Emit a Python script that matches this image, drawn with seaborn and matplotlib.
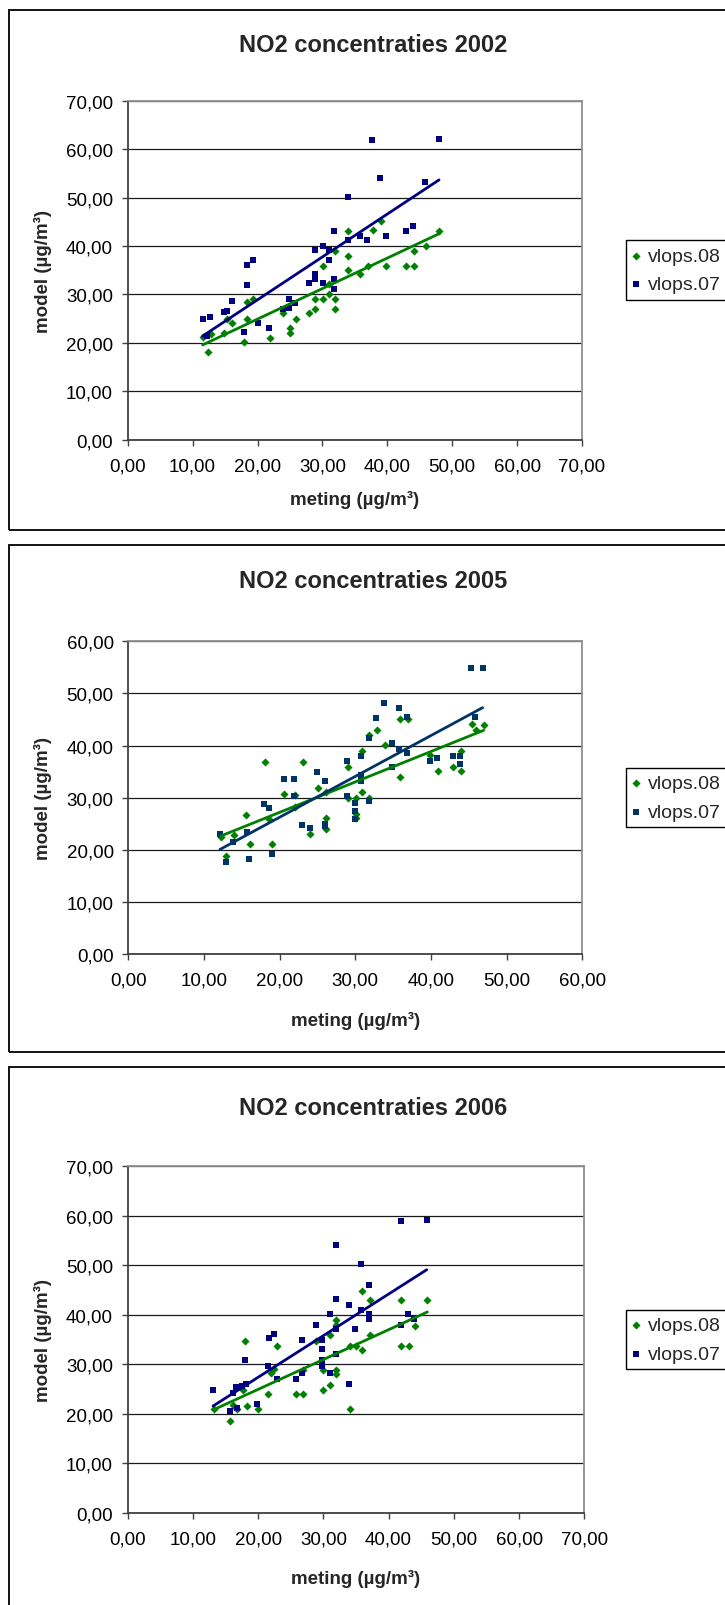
import numpy as np
import pandas as pd
import matplotlib
matplotlib.use("Agg")
import matplotlib.pyplot as plt
from matplotlib.patches import Rectangle
from matplotlib.ticker import FuncFormatter, MultipleLocator
import seaborn as sns

# ---------------- data ----------------
# 2002
x02_07 = [11.54, 12.72, 12.16, 14.83, 15.29, 16.01, 17.86, 18.32, 18.32, 19.24, 20.01, 21.81, 23.91,
          24.83, 24.83, 25.76, 27.91, 28.84, 28.84, 28.84, 30.02, 30.02, 30.94, 30.94, 31.86, 31.86,
          31.86, 33.91, 33.91, 35.81, 36.94, 37.66, 38.84, 39.76, 42.84, 43.97, 45.87, 47.97]
y02_07 = [24.85, 25.40, 21.47, 26.29, 26.50, 28.56, 22.23, 32.00, 35.99, 37.16, 24.16, 23.12, 27.05,
          27.12, 29.11, 28.22, 32.28, 33.17, 34.20, 39.16, 32.28, 40.06, 39.09, 37.16, 31.18, 33.17,
          43.15, 41.16, 50.10, 42.12, 41.16, 61.87, 54.10, 42.05, 43.15, 44.12, 53.20, 62.15]
x02_08 = [11.54, 12.31, 12.83, 14.88, 15.34, 16.11, 17.91, 18.37, 18.37, 19.29, 21.91, 23.96, 24.94,
          24.94, 25.86, 27.91, 28.89, 28.89, 30.07, 30.07, 30.99, 30.99, 31.96, 31.96, 31.96, 34.02,
          34.02, 34.02, 35.86, 37.10, 37.81, 38.99, 39.87, 42.89, 44.07, 44.07, 45.97, 48.02]
y02_08 = [21.27, 18.10, 21.75, 22.09, 24.91, 24.16, 20.10, 28.42, 24.98, 28.97, 20.99, 26.08, 23.06,
          22.09, 24.98, 26.08, 26.98, 28.97, 28.97, 35.86, 30.14, 32.14, 26.98, 28.97, 39.02, 34.96,
          37.85, 43.01, 34.20, 35.86, 43.29, 45.08, 35.86, 35.86, 35.86, 39.02, 39.92, 43.01]

# 2005
x05_07 = [12.11, 12.91, 13.88, 15.64, 15.95, 17.93, 18.55, 18.94, 20.53, 21.94, 21.94, 22.95, 23.96,
          24.93, 25.95, 25.95, 25.95, 28.94, 28.94, 29.96, 29.96, 29.96, 30.79, 30.79, 30.79, 31.76,
          31.76, 32.78, 33.79, 34.80, 34.80, 35.81, 35.81, 36.78, 36.78, 39.82, 40.84, 42.86, 43.83,
          43.83, 45.24, 45.86, 46.83]
y05_07 = [22.97, 17.72, 21.56, 23.48, 18.23, 28.85, 27.96, 19.13, 33.53, 33.53, 30.33, 24.70, 24.12,
          35.00, 33.21, 25.02, 24.50, 37.04, 30.33, 29.05, 27.38, 25.91, 37.94, 34.36, 33.14, 41.52,
          29.43, 45.23, 48.18, 40.56, 35.96, 47.28, 39.41, 45.49, 38.52, 37.04, 37.62, 37.94, 37.94,
          36.47, 54.89, 45.55, 54.89]
x05_08 = [12.25, 12.95, 14.01, 15.59, 16.04, 18.02, 18.63, 18.99, 20.62, 22.03, 22.03, 23.04, 24.05,
          25.02, 26.08, 26.08, 26.08, 29.03, 29.03, 30.04, 30.04, 30.04, 30.88, 30.88, 31.85, 31.85,
          32.91, 33.88, 35.90, 35.90, 36.92, 39.87, 40.97, 42.95, 43.92, 43.92, 45.42, 45.95, 46.96]
y05_08 = [22.46, 18.81, 22.78, 26.62, 21.05, 36.92, 25.85, 21.05, 30.71, 30.45, 28.22, 36.92, 23.10,
          31.93, 31.09, 26.10, 23.99, 35.96, 29.88, 29.88, 26.87, 26.10, 39.03, 31.03, 42.03, 29.94,
          43.06, 40.12, 45.11, 33.91, 45.11, 38.20, 35.06, 35.96, 38.96, 35.06, 44.21, 43.06, 43.95]

# 2006
x06_07 = [13.08, 15.64, 16.10, 16.56, 16.81, 17.48, 17.94, 18.19, 19.83, 21.46, 21.67, 22.38, 22.84,
          25.86, 26.78, 26.78, 28.87, 29.79, 29.79, 29.79, 29.79, 30.97, 30.97, 31.89, 31.89, 31.89,
          31.89, 33.98, 33.98, 34.90, 35.82, 35.82, 37.00, 37.00, 37.00, 41.85, 41.85, 43.02, 43.94,
          45.84]
y06_07 = [24.81, 20.50, 24.21, 25.42, 21.11, 25.69, 30.95, 26.03, 22.05, 29.67, 35.27, 36.14, 26.97,
          26.97, 34.93, 28.19, 38.03, 34.93, 33.11, 30.95, 29.74, 40.12, 28.19, 37.09, 43.16, 54.21,
          32.16, 42.01, 26.03, 37.09, 50.24, 41.07, 45.99, 40.12, 39.24, 58.87, 38.03, 40.12, 39.24,
          59.14]
x06_08 = [13.18, 15.74, 16.20, 16.81, 17.73, 18.04, 18.29, 19.93, 21.56, 21.92, 22.48, 22.94, 25.86,
          26.83, 26.83, 28.87, 29.89, 29.89, 31.07, 31.07, 31.99, 31.99, 31.99, 31.99, 34.08, 34.08,
          35.00, 35.92, 35.92, 37.15, 37.15, 41.95, 41.95, 43.13, 44.05, 45.94]
y06_08 = [20.90, 18.48, 21.85, 20.90, 24.88, 34.73, 21.58, 20.90, 24.01, 28.25, 29.06, 33.78, 24.01,
          24.01, 28.93, 34.73, 24.88, 28.93, 25.83, 35.94, 27.98, 28.93, 38.03, 39.04, 20.90, 33.78,
          33.78, 32.91, 44.84, 35.94, 43.02, 33.78, 43.02, 33.78, 37.83, 43.02]

titles = ["NO2 concentraties 2002", "NO2 concentraties 2005", "NO2 concentraties 2006"]
series_names = ["vlops.08", "vlops.07"]
xlabel = "meting (\u00b5g/m\u00b3)"
ylabel = "model (\u00b5g/m\u00b3)"
axis_max = [70, 60, 70]

# ---------------- style ----------------
sns.set_style("white")
plt.rcParams["font.family"] = ["Liberation Sans", "DejaVu Sans"]

W, H = 725, 1606
fig = plt.figure(figsize=(W / 100, H / 100), dpi=100)

GREEN = "#008000"
blues = ["#000080", "#003366", "#000080"]

# layout in pixels: (plot left, plot right, plot top, plot bottom, box top, box bottom, title y, xlabel y)
layout = [
    (127.7, 582.0, 101.7, 440.7, 11.0, 530.7, 45.0, 500.0),
    (128.3, 582.3, 642.3, 955.0, 545.7, 1053.0, 581.0, 1021.0),
    (127.7, 584.3, 1167.3, 1514.0, 1068.0, 1640.0, 1109.0, 1579.0),
]

data = [
    (x02_08, y02_08, x02_07, y02_07),
    (x05_08, y05_08, x05_07, y05_07),
    (x06_08, y06_08, x06_07, y06_07),
]

fmt = FuncFormatter(lambda v, p: f"{v:.2f}".replace(".", ","))

for i, ((pl, pr, pt, pb, bt, bb, ty, xly), (xg, yg, xb, yb)) in enumerate(zip(layout, data)):
    # panel frame
    fig.add_artist(Rectangle((9 / W, 1 - bb / H), (745 - 9) / W, (bb - bt) / H,
                             transform=fig.transFigure, fill=False, edgecolor="black",
                             linewidth=1.3, zorder=0))
    ax = fig.add_axes([pl / W, 1 - pb / H, (pr - pl) / W, (pb - pt) / H])
    blue = blues[i]

    sns.scatterplot(x=xg, y=yg, marker="D", color=GREEN, s=17, linewidth=0,
                    label=series_names[0], ax=ax, zorder=3)
    sns.scatterplot(x=xb, y=yb, marker="s", color=blue, s=15, linewidth=0,
                    label=series_names[1], ax=ax, zorder=3)
    sns.regplot(x=np.array(xg), y=np.array(yg), scatter=False, ci=None, color=GREEN,
                line_kws={"linewidth": 2.0, "zorder": 4}, ax=ax, truncate=True)
    sns.regplot(x=np.array(xb), y=np.array(yb), scatter=False, ci=None, color=blue,
                line_kws={"linewidth": 2.0, "zorder": 4}, ax=ax, truncate=True)

    m = axis_max[i]
    ax.set_xlim(0, m)
    ax.set_ylim(0, m)
    ax.xaxis.set_major_locator(MultipleLocator(10))
    ax.yaxis.set_major_locator(MultipleLocator(10))
    ax.xaxis.set_major_formatter(fmt)
    ax.yaxis.set_major_formatter(fmt)
    ax.set_xlabel("")
    ax.set_ylabel("")
    ax.grid(False)
    ax.yaxis.grid(True, color="#1a1a1a", linewidth=0.9)
    ax.set_axisbelow(True)
    for s in ["left", "bottom"]:
        ax.spines[s].set_color("#404040")
        ax.spines[s].set_linewidth(1.3)
    for s in ["top", "right"]:
        ax.spines[s].set_color("#909090")
        ax.spines[s].set_linewidth(1.3)
    ax.tick_params(axis="both", direction="out", length=4.5, width=1.0, color="#404040",
                   labelsize=13.5, labelcolor="black", bottom=True, left=True)
    ax.tick_params(axis="y", pad=6)
    ax.tick_params(axis="x", pad=8)

    # texts
    fig.text(373 / W, 1 - ty / H, titles[i], ha="center", va="center",
             fontsize=17, fontweight="bold")
    fig.text((pl + pr) / 2 / W, 1 - xly / H, xlabel, ha="center", va="center",
             fontsize=13.5, fontweight="bold")
    fig.text(43 / W, 1 - (pt + pb) / 2 / H, ylabel, ha="center", va="center",
             rotation=90, fontsize=13.5, fontweight="bold")

    lh = 63
    yc = (pt + pb) / 2
    leg = ax.legend(loc="center left",
                    bbox_to_anchor=(626 / W, 1 - (yc + lh / 2) / H, 160 / W, lh / H),
                    bbox_transform=fig.transFigure, mode="expand", frameon=True,
                    fancybox=False, edgecolor="black", framealpha=1, fontsize=14,
                    borderpad=0.35, handlelength=0.35, handletextpad=0.45,
                    labelspacing=0.55, borderaxespad=0, markerscale=1.0)
    leg.get_frame().set_linewidth(1.0)

fig.savefig("out.png", dpi=100)
